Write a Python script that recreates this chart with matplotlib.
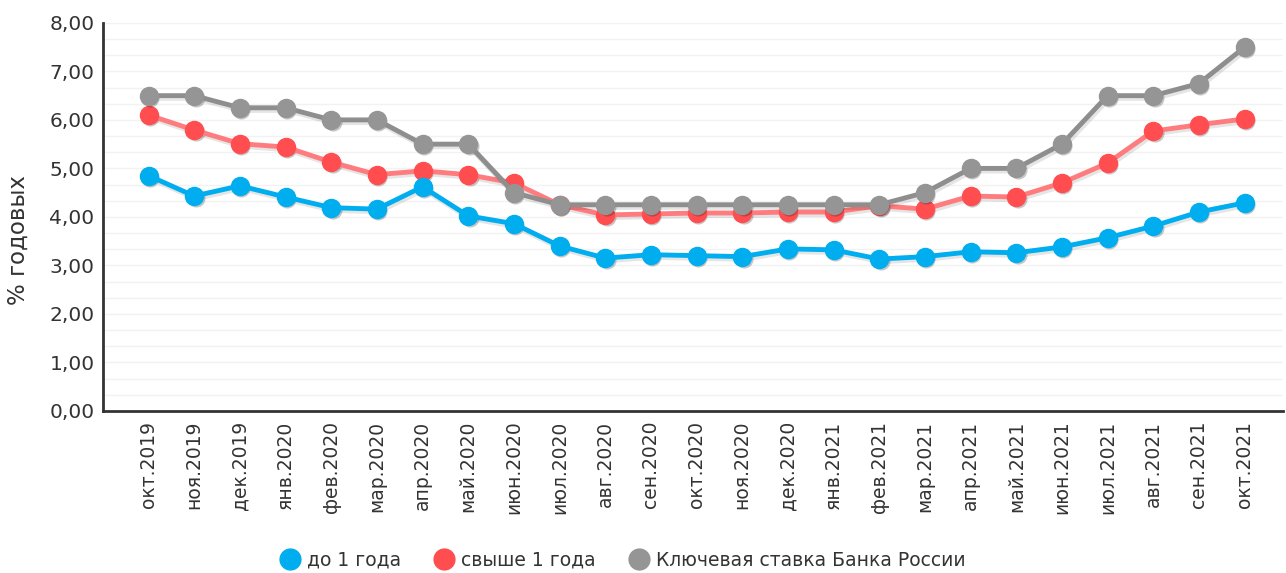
import numpy as np
import matplotlib.pyplot as plt
import matplotlib.transforms as mtransforms
from matplotlib.lines import Line2D

months = ['окт.2019', 'ноя.2019', 'дек.2019', 'янв.2020', 'фев.2020', 'мар.2020',
          'апр.2020', 'май.2020', 'июн.2020', 'июл.2020', 'авг.2020', 'сен.2020',
          'окт.2020', 'ноя.2020', 'дек.2020', 'янв.2021', 'фев.2021', 'мар.2021',
          'апр.2021', 'май.2021', 'июн.2021', 'июл.2021', 'авг.2021', 'сен.2021',
          'окт.2021']

short_term = [4.85, 4.43, 4.64, 4.41, 4.19, 4.16, 4.62, 4.02, 3.86, 3.40, 3.15, 3.22,
              3.20, 3.18, 3.34, 3.32, 3.13, 3.18, 3.28, 3.26, 3.38, 3.57, 3.81, 4.10,
              4.29]
long_term = [6.10, 5.79, 5.51, 5.44, 5.13, 4.87, 4.95, 4.87, 4.70, 4.25, 4.04, 4.06,
             4.08, 4.08, 4.10, 4.10, 4.23, 4.16, 4.43, 4.41, 4.70, 5.11, 5.77, 5.90,
             6.02]
key_rate = [6.50, 6.50, 6.25, 6.25, 6.00, 6.00, 5.50, 5.50, 4.50, 4.25, 4.25, 4.25,
            4.25, 4.25, 4.25, 4.25, 4.25, 4.50, 5.00, 5.00, 5.50, 6.50, 6.50, 6.75,
            7.50]

labels = ['до 1 года', 'свыше 1 года', 'Ключевая ставка Банка России']
marker_colors = ['#00aeef', '#ff4d50', '#959595']
line_colors = ['#00aeef', '#ff7c7e', '#8e8e8e']

fig = plt.figure(figsize=(12.86, 5.73), dpi=100)
ax = fig.add_axes([0.080, 0.283, 0.918, 0.677])

x = np.arange(len(months))
shadow_tr = mtransforms.offset_copy(ax.transData, fig=fig, x=1.5, y=-2.0, units='dots')

# red first, then blue, grey on top
draw = [(long_term, 1, 2.0), (short_term, 0, 3.0), (key_rate, 2, 4.0)]
for vals, i, z in draw:
    ax.plot(x, vals, lw=4.5, color='black', alpha=0.10, transform=shadow_tr, zorder=z - 0.5)
    ax.plot(x, vals, lw=0, marker='o', markersize=13, color='black', alpha=0.22,
            markeredgewidth=0, transform=shadow_tr, zorder=z - 0.4)
    ax.plot(x, vals, color=line_colors[i], lw=3.5, zorder=z,
            marker='o', markersize=13, markerfacecolor=marker_colors[i],
            markeredgecolor=marker_colors[i])

# faint horizontal grid every 1/3
for yy in np.arange(1, 25) / 3:
    ax.axhline(yy, color='#f2f2f2', lw=1, zorder=0)

ax.set_ylim(0, 8)
ax.set_xlim(-1.0, 24.85)
ax.set_yticks(np.arange(0, 9))
ax.set_yticklabels([f'{v},00' for v in range(9)], fontsize=14.5, color='#333333')
ax.set_xticks(x)
ax.set_xticklabels(months, rotation=90, fontsize=13.5, color='#333333')
ax.tick_params(axis='both', length=0, pad=6)
ax.tick_params(axis='x', pad=7)

for s in ['top', 'right']:
    ax.spines[s].set_visible(False)
for s in ['left', 'bottom']:
    ax.spines[s].set_color('#333333')
    ax.spines[s].set_linewidth(2)

ax.set_ylabel('% годовых', fontsize=16.5, color='#333333')
ax.yaxis.set_label_coords(-0.062, 0.44)

handles = [Line2D([], [], lw=0, marker='o', markersize=15,
                  markerfacecolor=marker_colors[i], markeredgecolor=marker_colors[i])
           for i in range(3)]
fig.legend(handles, labels, loc='center', bbox_to_anchor=(0.481, 0.022), ncol=3,
           frameon=False, fontsize=13.5, handletextpad=-0.1, columnspacing=1.3,
           labelcolor='#333333')

fig.savefig('out.png', dpi=100, facecolor='white')
